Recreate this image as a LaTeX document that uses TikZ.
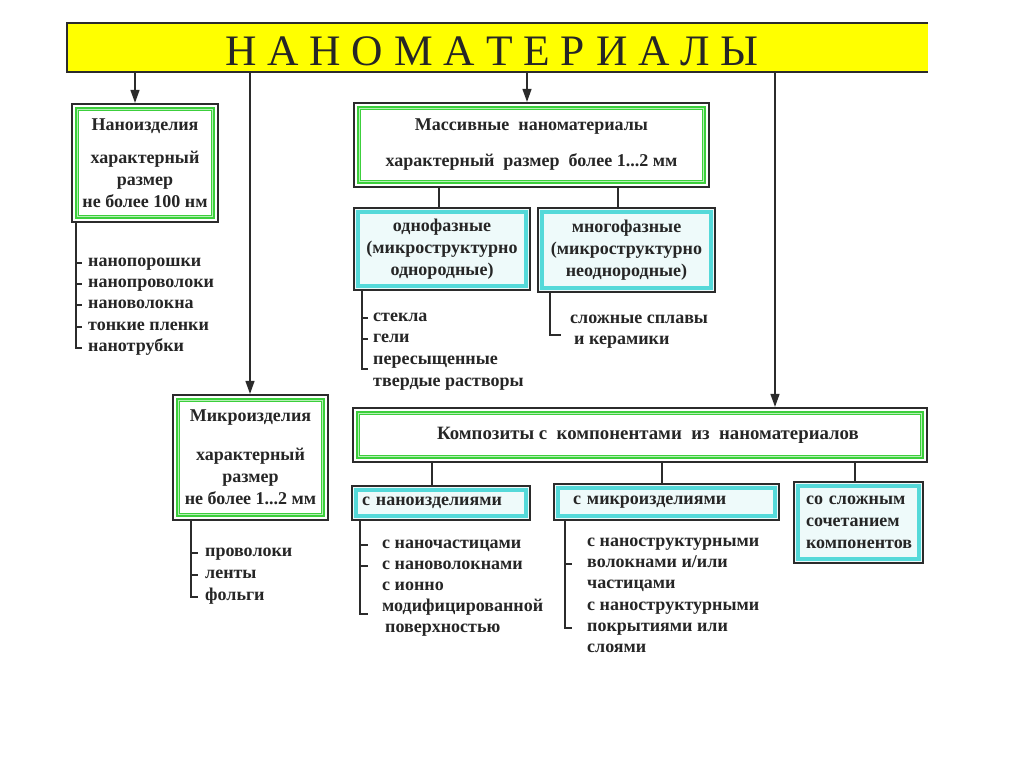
\documentclass[tikz,border=0pt]{standalone}
\usepackage{fontspec}
\setmainfont{Liberation Serif}
\newcommand\bxfont{\bfseries\fontsize{18}{22}\selectfont}
\usetikzlibrary{arrows.meta}
\definecolor{ttlyellow}{HTML}{FFFF00}
\definecolor{edge}{HTML}{2B2B2B}
\definecolor{grn}{HTML}{3CCF3C}
\definecolor{grnlt}{HTML}{B6F0B6}
\definecolor{cyn}{HTML}{55D9D9}
\definecolor{cynfill}{HTML}{EEFAFA}
\definecolor{ink}{HTML}{262626}
\tikzset{
  box/.style={draw=edge, line width=2.2pt, fill=white, inner sep=0pt, font=\bxfont, text=ink, align=center},
  gbox/.style={box, path picture={
      \draw[grn, line width=4pt] ([shift={(5.4pt,-5.4pt)}]path picture bounding box.north west) rectangle ([shift={(-5.4pt,5.4pt)}]path picture bounding box.south east);
      \draw[grnlt, line width=1pt] ([shift={(5.4pt,-5.4pt)}]path picture bounding box.north west) rectangle ([shift={(-5.4pt,5.4pt)}]path picture bounding box.south east);}},
  cbox/.style={box, fill=cynfill, path picture={
      \draw[cyn, line width=4.5pt] ([shift={(3.8pt,-3.8pt)}]path picture bounding box.north west) rectangle ([shift={(-3.8pt,3.8pt)}]path picture bounding box.south east);}},
  item/.style={anchor=west, inner sep=0pt, font=\bxfont, text=ink, text height=10pt, text depth=3pt},
  conn/.style={draw=edge, line width=1.3pt},
  arr/.style={draw=edge, line width=1.3pt, -{Triangle[length=13pt,width=9pt]}},
}
\begin{document}
\begin{tikzpicture}[x=1pt,y=-1pt]
\path[use as bounding box, fill=white] (0,0) rectangle (1024,767);

% title bar
\node[fill=ttlyellow, minimum width=861pt, minimum height=49pt, inner sep=0pt] (bar) at (497.5,47.5) {};
\draw[edge, line width=2.5pt] (bar.north east) -- (bar.north west) -- (bar.south west) -- (bar.south east);
\node[inner sep=0pt, text=ink, font=\fontsize{43.5}{43.5}\selectfont] (ttl) at (492,51) {Н А Н О М А Т Е Р И А Л Ы};

% boxes
\node[gbox, minimum width=146pt, minimum height=118pt] (nanoizd) at (145,163)
  {Наноизделия\\[11pt]характерный\\размер\\не более 100 нм};
\node[gbox, minimum width=355pt, minimum height=84pt] (massive) at (531.5,145)
  {Массивные\ \ наноматериалы\\[14pt]характерный\ \ размер\ \ более 1...2 мм};
\node[cbox, minimum width=176pt, minimum height=82pt] (odno) at (442,249)
  {однофазные\\(микроструктурно\\однородные)};
\node[cbox, minimum width=177pt, minimum height=84pt] (mnogo) at (626.5,250)
  {многофазные\\(микроструктурно\\неоднородные)};
\node[gbox, minimum width=155pt, minimum height=125pt] (mikro) at (250.5,457.5)
  {Микроизделия\\[17pt]характерный\\размер\\не более 1...2 мм};
\node[gbox, minimum width=574pt, minimum height=54pt, font=\bfseries\fontsize{18.8}{22}\selectfont] (kompoz) at (640,435)
  {\hspace*{16pt}Композиты\ с\ \ компонентами\ \ из\ \ наноматериалов};
\node[cbox, minimum width=178pt, minimum height=34pt, text width=158pt, align=left] (snano) at (441,503)
  {с наноизделиями};
\node[cbox, minimum width=225pt, minimum height=36pt, text width=187pt, align=left] (smikro) at (666.5,502)
  {с микроизделиями};
\node[cbox, minimum width=129pt, minimum height=81pt, text width=105pt, align=left] (sslozh) at (858.5,522.5)
  {со сложным\\сочетанием\\компонентов};

% arrows from title
\coordinate (a1) at ([xshift=-10pt]nanoizd.north);
\coordinate (a2) at ([xshift=-0.5pt]mikro.north);
\coordinate (a3) at ([xshift=-4.5pt]massive.north);
\coordinate (a4) at ([xshift=135pt]kompoz.north);
\draw[arr] (a1 |- bar.south) -- (a1);
\draw[arr] (a2 |- bar.south) -- (a2);
\draw[arr] (a3 |- bar.south) -- (a3);
\draw[arr] (a4 |- bar.south) -- (a4);

% connectors
\coordinate (c1) at ([xshift=-3pt]odno.north);
\coordinate (c2) at ([xshift=-8.5pt]mnogo.north);
\coordinate (c3) at ([xshift=-9pt]snano.north);
\coordinate (c4) at ([xshift=-4.5pt]smikro.north);
\coordinate (c5) at ([xshift=-3.5pt]sslozh.north);
\draw[conn] (c1 |- massive.south) -- (c1);
\draw[conn] (c2 |- massive.south) -- (c2);
\draw[conn] (c3 |- kompoz.south) -- (c3);
\draw[conn] (c4 |- kompoz.south) -- (c4);
\draw[conn] (c5 |- kompoz.south) -- (c5);

% tree A
\node[item] (a-1) at (88,263) {нанопорошки};
\node[item] (a-2) at (88,284) {нанопроволоки};
\node[item] (a-3) at (88,305) {нановолокна};
\node[item] (a-4) at (88,327) {тонкие пленки};
\node[item] (a-5) at (88,348) {нанотрубки};
\coordinate (ta) at ([xshift=5pt]nanoizd.south west);
\draw[conn] (ta) -- (ta |- a-5.west) -- ++(6,0);
\foreach \i in {1,...,4} \draw[conn] (ta |- a-\i.west) -- ++(6,0);

% tree B
\node[item] (b-1) at (373,318) {стекла};
\node[item] (b-2) at (373,339) {гели};
\node[item] (b-3) at (373,361) {пересыщенные};
\node[item] (b-4) at (373,383) {твердые растворы};
\coordinate (tb) at ([xshift=9pt]odno.south west);
\coordinate (tbL) at ([yshift=-8pt]b-3.west);
\draw[conn] (tb) -- (tb |- tbL) -- ++(6,0);
\foreach \i in {1,2} \draw[conn] (tb |- b-\i.west) -- ++(6,0);

% tree C
\node[item] (c-1) at (570,320) {сложные сплавы};
\node[item] (c-2) at (574,341) {и керамики};
\coordinate (tc) at ([xshift=13pt]mnogo.south west);
\coordinate (tcL) at ([yshift=6pt]c-2.west);
\draw[conn] (tc) -- (tc |- tcL) -- ++(11,0);

% tree D
\node[item] (d-1) at (205,553) {проволоки};
\node[item] (d-2) at (205,575) {ленты};
\node[item] (d-3) at (205,597) {фольги};
\coordinate (td) at ([xshift=19pt]mikro.south west);
\draw[conn] (td) -- (td |- d-3.west) -- ++(7,0);
\foreach \i in {1,2} \draw[conn] (td |- d-\i.west) -- ++(7,0);

% tree E
\node[item] (e-1) at (382,545) {с наночастицами};
\node[item] (e-2) at (382,566) {с нановолокнами};
\node[item] (e-3) at (382,587) {с ионно};
\node[item] (e-4) at (382,608) {модифицированной};
\node[item] (e-5) at (385,629) {поверхностью};
\coordinate (te) at ([xshift=9pt]snano.south west);
\coordinate (teL) at ([yshift=-6pt]e-4.west);
\draw[conn] (te) -- (te |- teL) -- ++(8,0);
\foreach \i in {1,2} \draw[conn] (te |- e-\i.west) -- ++(8,0);

% tree F
\node[item] (f-1) at (587,543) {с наноструктурными};
\node[item] (f-2) at (587,564) {волокнами и/или};
\node[item] (f-3) at (587,585) {частицами};
\node[item] (f-4) at (587,607) {с наноструктурными};
\node[item] (f-5) at (587,628) {покрытиями или};
\node[item] (f-6) at (587,649) {слоями};
\coordinate (tf) at ([xshift=12pt]smikro.south west);
\draw[conn] (tf) -- (tf |- f-5.west) -- ++(7,0);
\draw[conn] (tf |- f-2.west) -- ++(7,0);
\end{tikzpicture}
\end{document}
